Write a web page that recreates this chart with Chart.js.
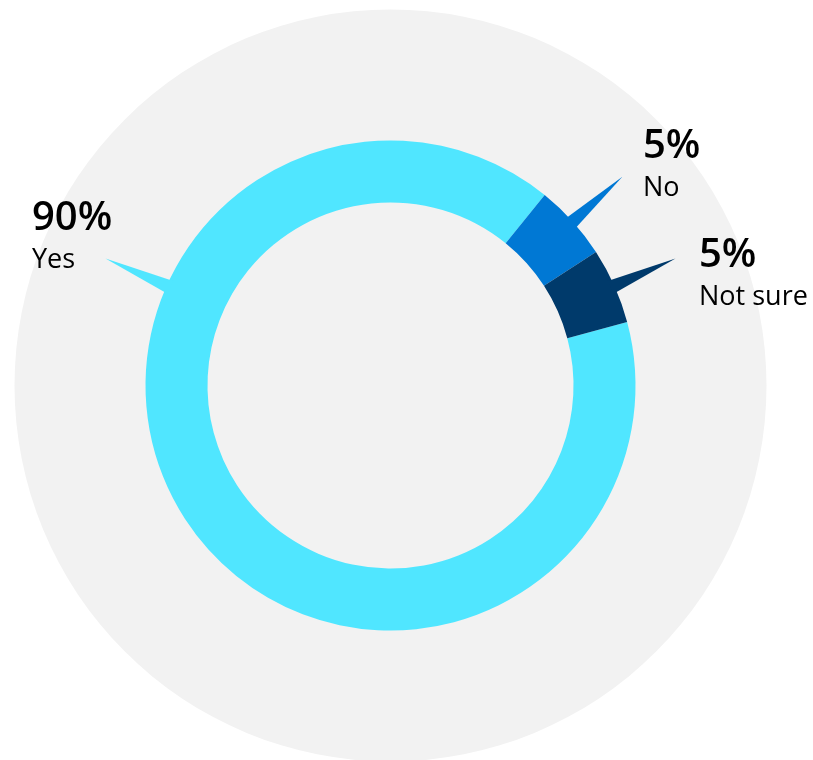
<!DOCTYPE html>
<html><head><meta charset="utf-8">
<script src="https://cdn.jsdelivr.net/npm/chart.js@4.4.0/dist/chart.umd.min.js"></script>
<style>html,body{margin:0;padding:0;background:#fff;} canvas{display:block;}</style>
</head><body>
<canvas id="c" width="813" height="760"></canvas>
<script>
const categories = ['Yes', 'No', 'Not sure'];
const values = [90, 5, 5];
const percentLabels = ['90%', '5%', '5%'];
const colors = ['#50E6FF', '#0078D4', '#003A6B'];

const calloutPlugin = {
  id: 'callouts',
  beforeDatasetsDraw(chart, args, opts) {
    const arc = chart.getDatasetMeta(0).data[0];
    const p = arc.getProps(['x', 'y', 'outerRadius'], true);
    const ctx = chart.ctx;
    ctx.save();
    ctx.fillStyle = opts.backgroundColor;
    ctx.beginPath();
    ctx.arc(p.x, p.y, p.outerRadius * opts.backgroundScale, 0, Math.PI * 2);
    ctx.fill();
    ctx.restore();
  },
  afterDatasetsDraw(chart, args, opts) {
    const meta = chart.getDatasetMeta(0);
    const ctx = chart.ctx;
    ctx.save();
    meta.data.forEach((arc, i) => {
      const p = arc.getProps(['x', 'y', 'startAngle', 'endAngle', 'outerRadius'], true);
      const ang = opts.angles[i] != null ? (opts.angles[i] - 90) * Math.PI / 180 : (p.startAngle + p.endAngle) / 2;
      const c = Math.cos(ang), s = Math.sin(ang);
      const rb = p.outerRadius - 4, rt = p.outerRadius + opts.length;
      const hw = opts.baseHalfWidth;
      ctx.fillStyle = colors[i];
      ctx.beginPath();
      ctx.moveTo(p.x + c * rb - s * hw, p.y + s * rb + c * hw);
      ctx.lineTo(p.x + c * rb + s * hw, p.y + s * rb - c * hw);
      ctx.lineTo(p.x + c * rt, p.y + s * rt);
      ctx.closePath();
      ctx.fill();
      const o = opts.labelOffsets[i];
      ctx.fillStyle = '#000';
      ctx.textAlign = 'left';
      ctx.textBaseline = 'alphabetic';
      ctx.font = '600 40px "Open Sans"';
      ctx.fillText(percentLabels[i], p.x + o[0], p.y + o[1]);
      ctx.font = '27px "Open Sans"';
      ctx.fillText(categories[i], p.x + o[0], p.y + o[1] + opts.lineGap);
    });
    ctx.restore();
  }
};

new Chart(document.getElementById('c'), {
  type: 'doughnut',
  data: {
    labels: categories,
    datasets: [{
      data: values,
      backgroundColor: colors,
      borderWidth: 0,
      hoverOffset: 0
    }]
  },
  options: {
    responsive: false,
    animation: false,
    rotation: 75,
    radius: 245,
    cutout: '74.7%',
    layout: { padding: { left: 100, right: 132, top: 100, bottom: 89 } },
    plugins: {
      legend: { display: false },
      tooltip: { enabled: false },
      callouts: {
        backgroundColor: '#F2F2F2',
        backgroundScale: 376 / 245,
        angles: [294, null, null],
        length: 67,
        baseHalfWidth: 7,
        lineGap: 38,
        labelOffsets: [[-358.5, -156], [252.5, -228], [308.5, -119]]
      }
    }
  },
  plugins: [calloutPlugin]
});
</script>
</body></html>
